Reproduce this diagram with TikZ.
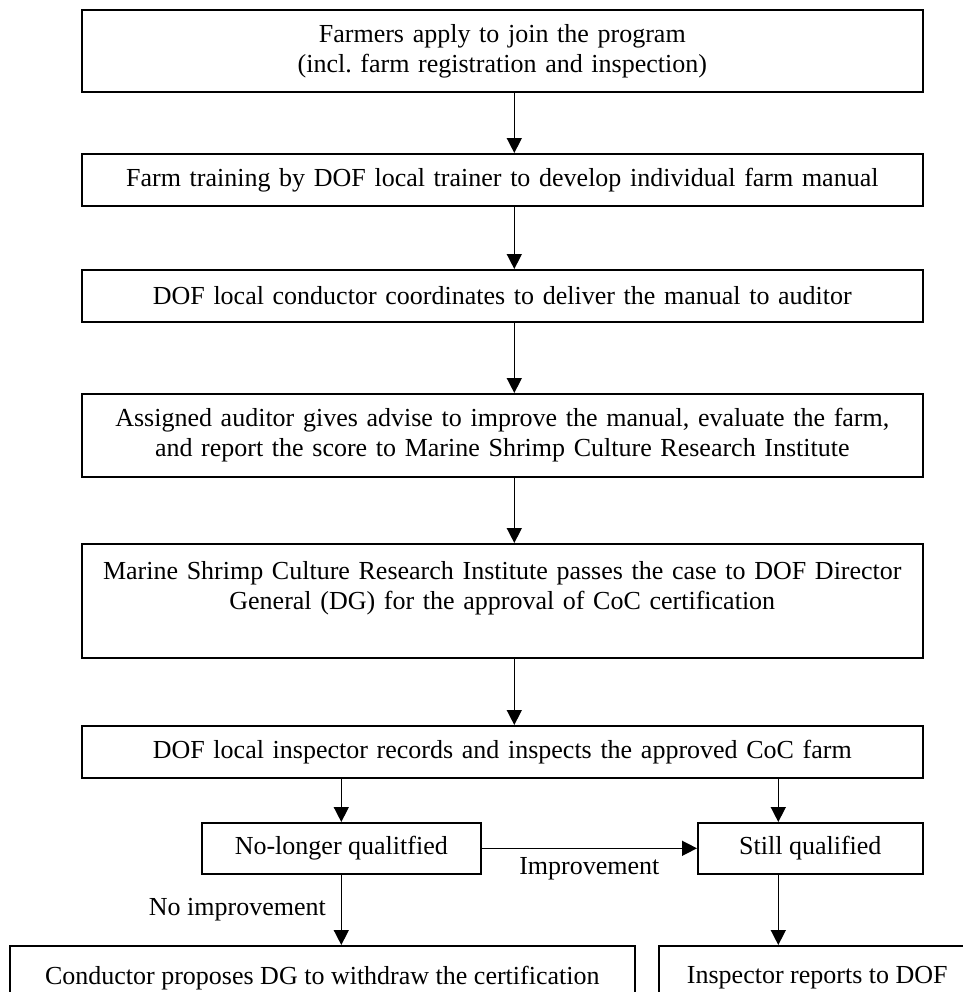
\documentclass[tikz,border=0pt]{standalone}
\usepackage{fontspec}
\setmainfont{Liberation Serif}
\frenchspacing
\usetikzlibrary{positioning}
\usetikzlibrary{arrows.meta}
\tikzset{every node/.style={font=\fontsize{13}{15}\selectfont}}
\tikzset{stage/.style={draw, line width=0.8pt, minimum width=420.5pt, text width=412pt, align=center, inner xsep=3pt, inner ysep=2pt}}
\tikzset{outcome/.style={draw, line width=0.8pt, minimum height=25.5pt, inner sep=2pt}}
\tikzset{flow/.style={-{Triangle[length=7.5pt,width=7.5pt]}, line width=0.75pt}}

\begin{document}
\begin{tikzpicture}
  \useasboundingbox (0,0) rectangle (481.5pt,-496pt);
  \clip (0,0) rectangle (481.5pt,-496pt);

  \node [stage, minimum height=41pt, anchor=north west] (farmers) at (40.5pt,-4.5pt) {Farmers apply to join the program\\(incl. farm registration and inspection)};
  \node [stage, minimum height=26pt, below=30.2pt of farmers] (training) {Farm training by DOF local trainer to develop individual farm manual};
  \node [stage, minimum height=26pt, below=31.2pt of training] (conductor) {DOF local conductor coordinates to deliver the manual to auditor};
  \node [stage, minimum height=41.5pt, below=35.2pt of conductor] (auditor) {Assigned auditor gives advise to improve the manual, evaluate the farm,\\and report the score to Marine Shrimp Culture Research Institute};
  \node [stage, minimum height=57pt, below=32.7pt of auditor] (institute) {Marine Shrimp Culture Research Institute passes the case to DOF Director\\General (DG) for the approval of CoC certification\\\mbox{}};
  \node [stage, minimum height=26pt, below=33.2pt of institute] (inspect) {DOF local inspector records and inspects the approved CoC farm};

  \node [outcome, minimum width=139.5pt, below=21.7pt of inspect.south west, anchor=north west, xshift=60pt] (nolonger) {No-longer qualitfied};
  \node [outcome, minimum width=112.5pt, below=21.7pt of inspect.south east, anchor=north east] (still) {Still qualified};
  \node [outcome, minimum width=312.5pt, minimum height=32pt, below=35.2pt of nolonger.south west, anchor=north west, xshift=-96pt] (withdraw) {Conductor proposes DG to withdraw the certification};
  \node [outcome, minimum width=158.5pt, minimum height=32pt, below=35.2pt of still.south west, anchor=north west, xshift=-19.5pt] (reports) {Inspector reports to DOF};

  \draw [flow] ([xshift=6pt]farmers.south) -- ([xshift=6pt]training.north);
  \draw [flow] ([xshift=6pt]training.south) -- ([xshift=6pt]conductor.north);
  \draw [flow] ([xshift=6pt]conductor.south) -- ([xshift=6pt]auditor.north);
  \draw [flow] ([xshift=6pt]auditor.south) -- ([xshift=6pt]institute.north);
  \draw [flow] ([xshift=6pt]institute.south) -- ([xshift=6pt]inspect.north);

  \draw [flow] (nolonger.north |- inspect.south) -- (nolonger);
  \draw [flow] ([xshift=-16pt]still.north |- inspect.south) -- ([xshift=-16pt]still.north);
  \draw [flow] (nolonger) -- node[below=1pt] {Improvement} (still);
  \draw [flow] (nolonger) -- node[left=4pt] {No improvement} (nolonger |- withdraw.north);
  \draw [flow] ([xshift=-16pt]still.south) -- ([xshift=-16pt]still.south |- reports.north);

\end{tikzpicture}
\end{document}
